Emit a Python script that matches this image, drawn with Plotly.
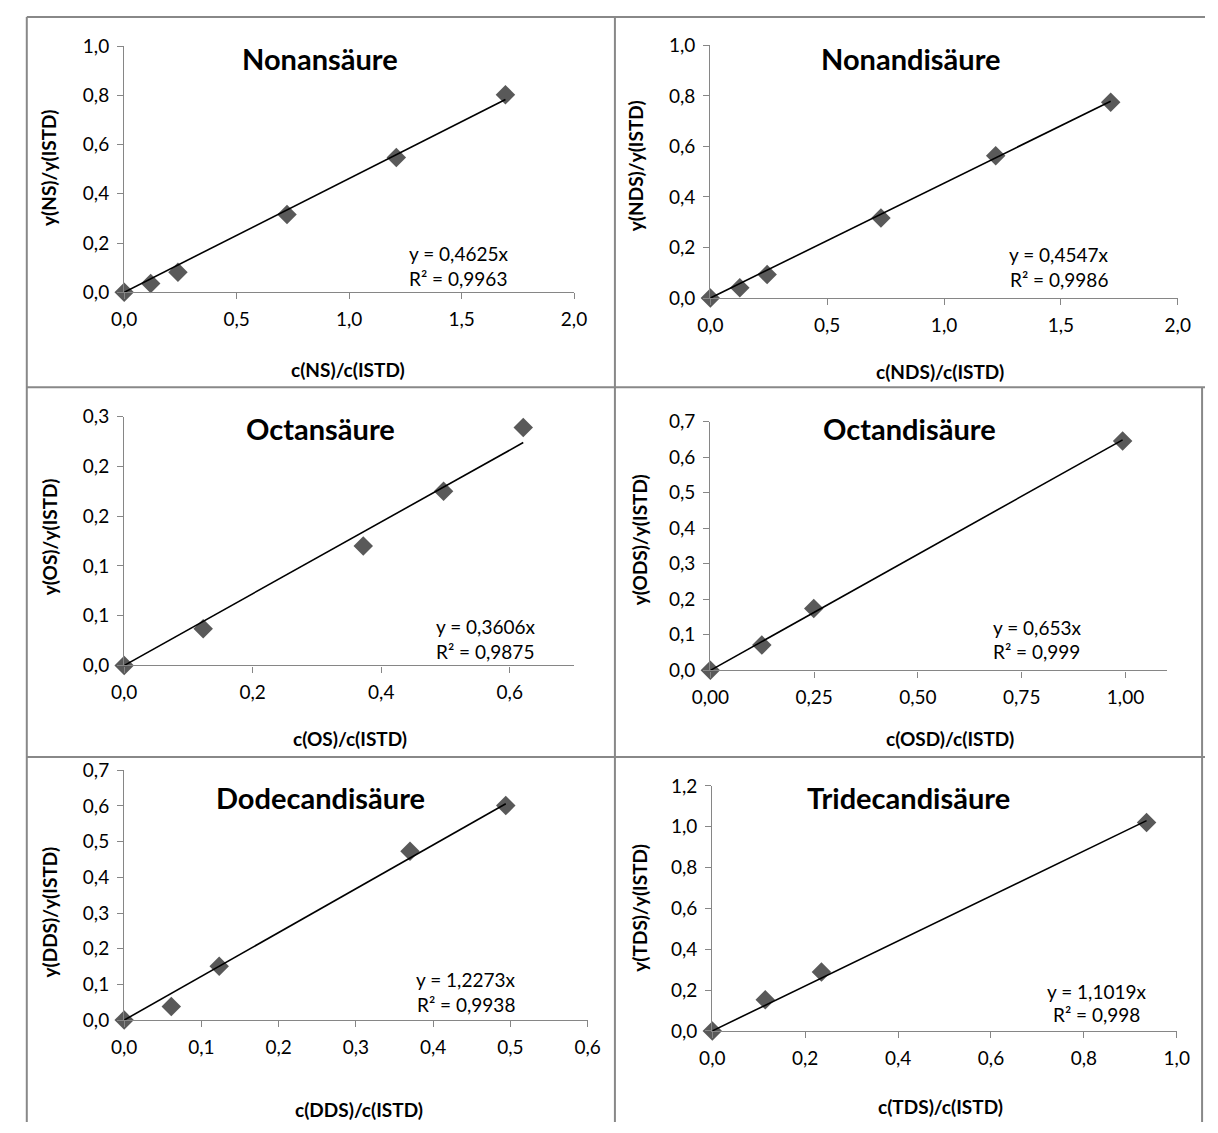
import plotly.graph_objects as go

W, H = 1218, 1133

# ---- calibration data -------------------------------------------------------
titles = ["Nonansäure", "Nonandisäure", "Octansäure",
          "Octandisäure", "Dodecandisäure", "Tridecandisäure"]
x_titles = ["c(NS)/c(ISTD)", "c(NDS)/c(ISTD)", "c(OS)/c(ISTD)",
            "c(OSD)/c(ISTD)", "c(DDS)/c(ISTD)", "c(TDS)/c(ISTD)"]
y_titles = ["y(NS)/y(ISTD)", "y(NDS)/y(ISTD)", "y(OS)/y(ISTD)",
            "y(ODS)/y(ISTD)", "y(DDS)/y(ISTD)", "y(TDS)/y(ISTD)"]

ns_x = [0, 0.118, 0.239, 0.724, 1.210, 1.695]
ns_y = [0, 0.035, 0.081, 0.316, 0.548, 0.803]
nds_x = [0, 0.126, 0.243, 0.730, 1.221, 1.713]
nds_y = [0, 0.041, 0.093, 0.317, 0.563, 0.775]
os_x = [0, 0.123, 0.372, 0.497, 0.621]
os_y = [0, 0.037, 0.120, 0.175, 0.239]
ods_x = [0, 0.124, 0.249, 0.993]
ods_y = [0, 0.071, 0.174, 0.645]
dds_x = [0, 0.061, 0.123, 0.370, 0.494]
dds_y = [0, 0.038, 0.151, 0.473, 0.601]
tds_x = [0, 0.114, 0.235, 0.935]
tds_y = [0, 0.152, 0.288, 1.021]

slopes = [0.4625, 0.4547, 0.3606, 0.653, 1.2273, 1.1019]
r_squared = [0.9963, 0.9986, 0.9875, 0.999, 0.9938, 0.998]

# axis ranges and tick labels
x_max = [2.0, 2.0, 0.7, 1.1, 0.6, 1.0]
y_max = [1.0, 1.0, 0.25, 0.7, 0.7, 1.2]
x_tickvals = [[0, 0.5, 1.0, 1.5, 2.0], [0, 0.5, 1.0, 1.5, 2.0],
              [0, 0.2, 0.4, 0.6], [0, 0.25, 0.5, 0.75, 1.0],
              [0, 0.1, 0.2, 0.3, 0.4, 0.5, 0.6], [0, 0.2, 0.4, 0.6, 0.8, 1.0]]
x_ticktext = [["0,0", "0,5", "1,0", "1,5", "2,0"], ["0,0", "0,5", "1,0", "1,5", "2,0"],
              ["0,0", "0,2", "0,4", "0,6"], ["0,00", "0,25", "0,50", "0,75", "1,00"],
              ["0,0", "0,1", "0,2", "0,3", "0,4", "0,5", "0,6"],
              ["0,0", "0,2", "0,4", "0,6", "0,8", "1,0"]]
y_tickvals = [[0, 0.2, 0.4, 0.6, 0.8, 1.0], [0, 0.2, 0.4, 0.6, 0.8, 1.0],
              [0, 0.05, 0.10, 0.15, 0.20, 0.25],
              [0, 0.1, 0.2, 0.3, 0.4, 0.5, 0.6, 0.7],
              [0, 0.1, 0.2, 0.3, 0.4, 0.5, 0.6, 0.7],
              [0, 0.2, 0.4, 0.6, 0.8, 1.0, 1.2]]
y_ticktext = [["0,0", "0,2", "0,4", "0,6", "0,8", "1,0"],
              ["0,0", "0,2", "0,4", "0,6", "0,8", "1,0"],
              ["0,0", "0,1", "0,1", "0,2", "0,2", "0,3"],
              ["0,0", "0,1", "0,2", "0,3", "0,4", "0,5", "0,6", "0,7"],
              ["0,0", "0,1", "0,2", "0,3", "0,4", "0,5", "0,6", "0,7"],
              ["0,0", "0,2", "0,4", "0,6", "0,8", "1,0", "1,2"]]

series = [(ns_x, ns_y), (nds_x, nds_y), (os_x, os_y),
          (ods_x, ods_y), (dds_x, dds_y), (tds_x, tds_y)]

# ---- layout (pixel geometry) -------------------------------------------------
# plot boxes: left, right, top, bottom
boxes = [(108, 570, 35, 286), (710, 1190, 34, 292),
         (108, 570, 413, 667), (710, 1179, 418, 672),
         (108, 584, 774, 1029), (712, 1189, 790, 1040)]
title_pos = [(309, 47), (916, 47), (310, 425), (915, 425), (310, 802), (914, 802)]
xtitle_pos = [(338, 365), (946, 367), (340, 742), (956, 742), (349, 1120), (946, 1117)]
ytitle_pos = [(31, 159), (633, 157), (31, 536), (637, 539), (31, 919), (637, 914)]
eq_pos = [(451, 247, 272), (1068, 248, 273), (479, 627, 653),
          (1045, 628, 653), (459, 988, 1013), (1107, 1000, 1023)]

FONT = "Lato"
AXIS_GRAY = "#868686"
MARKER_GRAY = "#595959"


def px(x):
    return x / W


def py(y):
    return 1 - y / H


def comma(v):
    return str(v).replace(".", ",")


fig = go.Figure()
layout = dict(
    width=W, height=H, margin=dict(l=0, r=0, t=0, b=0),
    paper_bgcolor="white", plot_bgcolor="white", showlegend=False,
    font=dict(family=FONT, size=19, color="black"),
    annotations=[], shapes=[],
)

for i in range(6):
    n = "" if i == 0 else str(i + 1)
    xa, ya = "x" + n, "y" + n
    xs, ys = series[i]
    fig.add_trace(go.Scatter(
        x=xs, y=ys, mode="markers", xaxis=xa, yaxis=ya, cliponaxis=False,
        marker=dict(symbol="diamond", size=15, color=MARKER_GRAY,
                    line=dict(width=0)),
    ))
    x_end = max(xs)
    fig.add_trace(go.Scatter(
        x=[0, x_end], y=[0, slopes[i] * x_end], mode="lines",
        xaxis=xa, yaxis=ya, cliponaxis=False,
        line=dict(color="black", width=1.6),
    ))
    l, r, t, b = boxes[i]
    axis_common = dict(showline=True, linecolor=AXIS_GRAY, linewidth=1.3,
                       ticks="outside", ticklen=6, tickcolor=AXIS_GRAY,
                       tickwidth=1.3, showgrid=False, zeroline=False,
                       tickfont=dict(family=FONT, size=19, color="black"),
                       tickmode="array", fixedrange=True)
    layout["xaxis" + n] = dict(domain=[px(l), px(r)], range=[0, x_max[i]],
                               anchor=ya, tickvals=x_tickvals[i],
                               ticktext=x_ticktext[i], ticklabelstandoff=4,
                               **axis_common)
    layout["yaxis" + n] = dict(domain=[py(b), py(t)], range=[0, y_max[i]],
                               anchor=xa, tickvals=y_tickvals[i],
                               ticktext=y_ticktext[i], ticklabelstandoff=4,
                               **axis_common)

    tx, ty = title_pos[i]
    layout["annotations"].append(dict(
        x=px(tx), y=py(ty), xref="paper", yref="paper", showarrow=False,
        text="<b>%s</b>" % titles[i], xanchor="center", yanchor="middle",
        font=dict(family=FONT, size=29, color="black")))
    xx, xy = xtitle_pos[i]
    layout["annotations"].append(dict(
        x=px(xx), y=py(xy), xref="paper", yref="paper", showarrow=False,
        text="<b>%s</b>" % x_titles[i], xanchor="center", yanchor="middle",
        font=dict(family=FONT, size=19, color="black")))
    yx, yy = ytitle_pos[i]
    layout["annotations"].append(dict(
        x=px(yx), y=py(yy), xref="paper", yref="paper", showarrow=False,
        text="<b>%s</b>" % y_titles[i], textangle=-90,
        xanchor="center", yanchor="middle",
        font=dict(family=FONT, size=19, color="black")))
    ex, ey1, ey2 = eq_pos[i]
    layout["annotations"].append(dict(
        x=px(ex), y=py(ey1), xref="paper", yref="paper", showarrow=False,
        text="y = %sx" % comma(slopes[i]), xanchor="center", yanchor="middle",
        font=dict(family=FONT, size=19, color="black")))
    layout["annotations"].append(dict(
        x=px(ex), y=py(ey2), xref="paper", yref="paper", showarrow=False,
        text="R² = %s" % comma(r_squared[i]), xanchor="center", yanchor="middle",
        font=dict(family=FONT, size=19, color="black")))

# panel frames
frame_lines = [((8, 5), (8, H)), ((8, 5), (W, 5)), ((612, 5), (612, H)),
               ((8, 383), (W, 383)), ((8, 760.5), (W, 760.5)),
               ((1215, 383), (1215, H))]
for (x0, y0), (x1, y1) in frame_lines:
    layout["shapes"].append(dict(
        type="line", xref="paper", yref="paper",
        x0=px(x0), y0=py(y0), x1=px(x1), y1=py(y1),
        line=dict(color="#888888", width=2)))

fig.update_layout(**layout)
# keep the page itself flush with the figure
fig.write_html("out.html",
               post_script="document.body.style.margin='0';"
                           "document.body.style.overflow='hidden';")
